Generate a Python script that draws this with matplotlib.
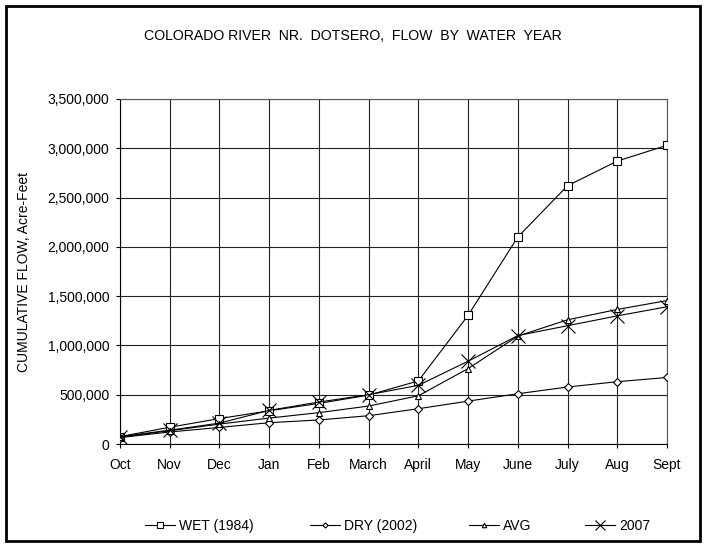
import matplotlib
matplotlib.use("Agg")
import matplotlib.pyplot as plt
from matplotlib.patches import Rectangle
from matplotlib.ticker import FuncFormatter

plt.rcParams['font.family'] = ['Liberation Sans', 'DejaVu Sans']

months = ['Oct', 'Nov', 'Dec', 'Jan', 'Feb', 'March', 'April', 'May', 'June', 'July', 'Aug', 'Sept']
wet_1984 = [75000, 170000, 258000, 337000, 412000, 496000, 640000, 1305000, 2100000, 2620000, 2870000, 3030000]
dry_2002 = [65000, 122000, 168000, 216000, 244000, 287000, 358000, 435000, 510000, 578000, 632000, 675000]
avg = [70000, 135000, 202000, 263000, 318000, 385000, 489000, 765000, 1095000, 1260000, 1365000, 1455000]
y2007 = [75000, 140000, 212000, 341000, 426000, 500000, 595000, 840000, 1100000, 1200000, 1300000, 1392000]

labels = ['WET (1984)', 'DRY (2002)', 'AVG', '2007']
legend_x = [145, 310, 469, 585]   # left edge of each legend entry, px

fig = plt.figure(figsize=(7.06, 5.44), dpi=100)
ax = fig.add_axes([120 / 706, 1 - 444 / 544, 547 / 706, 345 / 544])

x = range(len(months))
lines = []
lines += ax.plot(x, wet_1984, '-', color='black', lw=0.8, marker='s', ms=6, mfc='white', mec='black', mew=0.8, zorder=3)
lines += ax.plot(x, dry_2002, '-', color='black', lw=0.8, marker='D', ms=4, mfc='white', mec='black', mew=0.8, zorder=3)
lines += ax.plot(x, avg, '-', color='black', lw=0.8, marker='^', ms=5, mfc='white', mec='black', mew=0.8, zorder=3)
lines += ax.plot(x, y2007, '-', color='black', lw=0.8, marker='x', ms=10, mec='black', mew=0.8, zorder=3)

ax.set_xlim(0, len(months) - 1)
ax.set_ylim(0, 3500000)
ax.set_xticks(list(x))
ax.set_xticklabels(months)
ax.set_yticks(range(0, 3500001, 500000))
ax.yaxis.set_major_formatter(FuncFormatter(lambda v, p: '{:,.0f}'.format(v)))
ax.tick_params(labelsize=10, length=3, width=0.8, color='black')
ax.tick_params(axis='y', pad=4.5)
ax.tick_params(axis='x', pad=7)
ax.grid(True, color='#222222', lw=0.8)
for s in ax.spines.values():
    s.set_color('#555555')
    s.set_linewidth(0.8)
ax.spines['left'].set_color('black')
ax.spines['bottom'].set_color('black')

ax.set_ylabel('CUMULATIVE FLOW, Acre-Feet', fontsize=10, labelpad=12)
fig.text(0.5, 1 - 36 / 544, 'COLORADO RIVER  NR.  DOTSERO,  FLOW  BY  WATER  YEAR',
         ha='center', va='center', fontsize=10.2)

# one small legend per entry, like the spread-out legend row of the original
for ln, lab, lx in zip(lines, labels, legend_x):
    fig.legend([ln], [lab], loc='center left', bbox_to_anchor=(lx / 706, 1 - 526 / 544),
               frameon=False, fontsize=10, handlelength=2.15, handletextpad=0.3,
               borderpad=0, borderaxespad=0, markerscale=0.65)

fig.patches.append(Rectangle((6 / 706, 3 / 544), 694 / 706, 535 / 544, transform=fig.transFigure,
                             fill=False, edgecolor='black', lw=2))

fig.savefig('out.png', dpi=100)
